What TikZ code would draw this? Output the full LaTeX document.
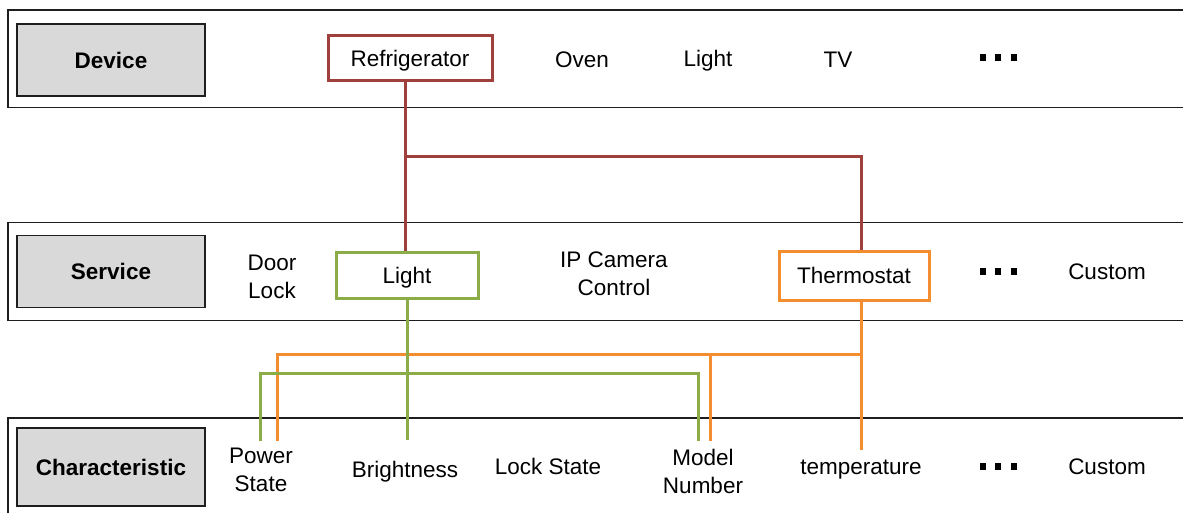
\documentclass[tikz,border=0pt]{standalone}
\usepackage{fontspec}
\setmainfont{Liberation Sans}
\definecolor{fridgered}{RGB}{160,64,60}
\definecolor{lightgreen}{RGB}{140,172,72}
\definecolor{thermoorange}{RGB}{244,140,48}
\definecolor{headgray}{RGB}{217,217,217}
\definecolor{bandline}{RGB}{30,30,30}
\newcommand{\threedots}{\rule{6pt}{7pt}\hspace{9.5pt}\rule{6pt}{7pt}\hspace{9.5pt}\rule{6pt}{7pt}}

\begin{document}
\begin{tikzpicture}[x=1pt,y=-1pt,
  font=\fontsize{22.5}{28}\selectfont,
  band/.style={draw=bandline, line width=1.7pt},
  head/.style={draw=bandline, fill=headgray, line width=1.7pt,
    minimum width=188pt, minimum height=72pt, inner sep=0pt,
    text height=16.5pt, text depth=0pt, font=\fontsize{22.5}{28}\selectfont\bfseries},
  item/.style={align=center, inner sep=0pt},
  boxed/.style={draw=#1, line width=3pt, fill=white, inner sep=0pt,
    text height=16.5pt, text depth=0pt},
  link/.style={draw=#1, line width=3pt},
  dotrow/.style={inner sep=0pt},
]
\useasboundingbox (0,0) rectangle (1183,513);
\clip (0,0) rectangle (1183,513);

% layer bands
\draw[band] (8,10) rectangle (1200,107.5);
\draw[band] (8,222.5) rectangle (1200,320.5);
\draw[band] (8,418) rectangle (1200,530);

% layer headings
\node[head] (hdevice) at (111,60) {Device};
\node[head] (hservice) at (111,271.5) {Service};
\node[head, minimum height=78pt] (hchar) at (111,467) {Characteristic};

% device row
\node[boxed=fridgered, minimum width=164pt, minimum height=45pt] (fridge) at (410,58.5) {Refrigerator};
\node[item, anchor=base] (oven) at (582,68) {Oven};
\node[item, anchor=base] (dlight) at (708,67) {Light};
\node[item, anchor=base] (tv) at (838,68) {TV};
\node[dotrow] (ddots) at (998,57.5) {\threedots};

% service row
\node[item, anchor=north] (doorlock) at (272,255) {Door\\Lock};
\node[boxed=lightgreen, minimum width=142pt, minimum height=46pt] (slight) at (407,275) {Light};
\node[item, anchor=north] (ipcam) at (614,252) {IP Camera\\Control};
\node[boxed=thermoorange, minimum width=150pt, minimum height=49pt] (thermo) at (854,275.5) {Thermostat};
\node[dotrow] (sdots) at (998,271) {\threedots};
\node[item, anchor=base] (scustom) at (1107,279) {Custom};

% characteristic row
\node[item, anchor=north] (pstate) at (261,448) {Power\\State};
\node[item, anchor=base] (bright) at (405,477) {Brightness};
\node[item, anchor=base] (lock) at (548,474) {Lock State};
\node[item, anchor=north] (model) at (703,449) {Model\\Number};
\node[item, anchor=base] (temp) at (861,474) {temperature};
\node[dotrow] (cdots) at (998,466) {\threedots};
\node[item, anchor=base] (ccustom) at (1107,474) {Custom};

% junctions
\coordinate (tx) at (861,0);
\coordinate (rsplit) at (405,157);
\coordinate (obar) at (861,354);
\coordinate (gbar) at (407,373);

% refrigerator -> services
\draw[link=fridgered] (fridge.south -| rsplit) -- (rsplit |- slight.north);
\draw[link=fridgered] (rsplit) -| (tx |- thermo.north);

% thermostat -> characteristics
\draw[link=thermoorange, shorten >=9pt] (tx |- thermo.south) -- (temp.north);
\draw[link=thermoorange, shorten >=7pt] (obar) -| ([xshift=16pt]pstate.north);
\draw[link=thermoorange, shorten >=8pt] (obar) -| ([xshift=7pt]model.north);

% light -> characteristics
\draw[link=lightgreen, shorten >=20pt] (slight.south) -- (bright.north -| slight.south);
\draw[link=lightgreen, shorten >=7pt] (gbar) -| ([xshift=-1pt]pstate.north);
\draw[link=lightgreen, shorten >=8pt] (gbar) -| ([xshift=-5pt]model.north);
\end{tikzpicture}
\end{document}
